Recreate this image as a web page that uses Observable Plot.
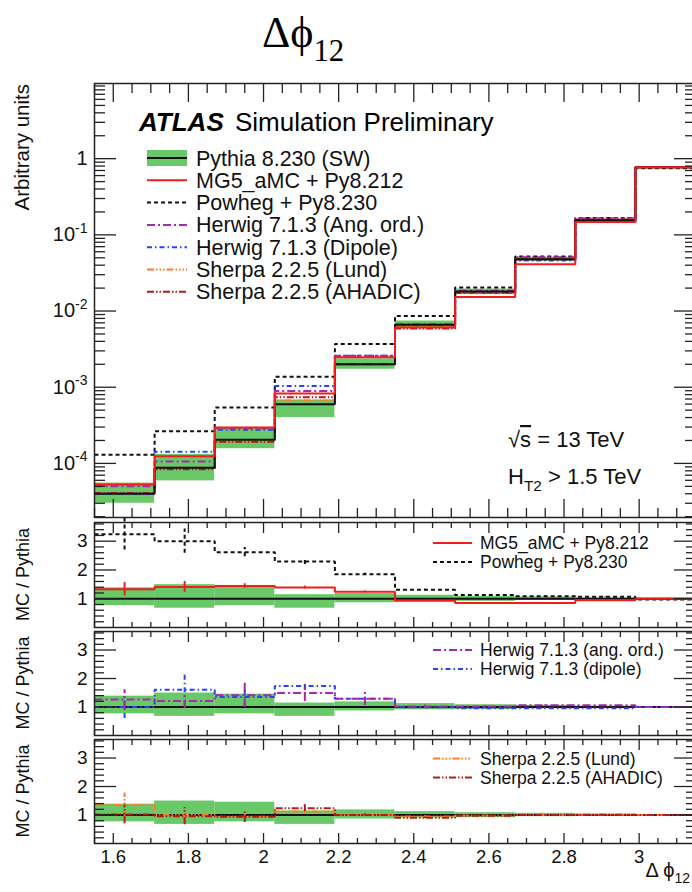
<!DOCTYPE html>
<html><head><meta charset="utf-8">
<script src="https://cdn.jsdelivr.net/npm/d3@7"></script>
<script src="https://cdn.jsdelivr.net/npm/@observablehq/plot@0.6"></script>
<style>
html,body{margin:0;padding:0;background:#fff;}
#wrap{position:relative;width:692px;height:892px;overflow:hidden;background:#fff;}
</style></head><body><div id="wrap"></div>
<script>
// ---------------- data ----------------
const binEdges = [1.55,1.71,1.87,2.03,2.19,2.35,2.51,2.67,2.83,2.99,3.15];
// main panel (arbitrary units)
const pythia     = [4.0e-5, 8.8e-5, 2.05e-4, 6.0e-4, 2.0e-3, 6.6e-3, 1.8e-2, 4.8e-2, 0.156, 0.77];
const pythiaLo   = [3.0e-5, 5.9e-5, 1.56e-4, 4.0e-4, 1.72e-3, 5.9e-3, 1.64e-2, 4.5e-2, 0.151, 0.755];
const pythiaHi   = [5.5e-5, 1.31e-4, 2.97e-4, 6.8e-4, 2.36e-3, 7.4e-3, 1.94e-2, 5.1e-2, 0.161, 0.785];
const mg5        = [5.3e-5, 1.24e-4, 2.95e-4, 8.3e-4, 2.48e-3, 6.1e-3, 1.53e-2, 4.1e-2, 0.148, 0.77];
const powheg     = [1.3e-4, 2.64e-4, 5.4e-4, 1.37e-3, 3.7e-3, 8.6e-3, 2.04e-2, 5.2e-2, 0.167, 0.75];
const herwigAng  = [5.0e-5, 1.06e-4, 2.9e-4, 8.9e-4, 2.58e-3, 6.7e-3, 1.84e-2, 5.1e-2, 0.165, 0.77];
const herwigDip  = [4.0e-5, 1.42e-4, 2.77e-4, 1.04e-3, 2.58e-3, 6.5e-3, 1.73e-2, 4.6e-2, 0.150, 0.77];
const sherpaLund = [5.4e-5, 8.8e-5, 1.93e-4, 6.7e-4, 2.0e-3, 6.3e-3, 1.76e-2, 4.8e-2, 0.158, 0.77];
const sherpaAha  = [4.1e-5, 8.4e-5, 1.93e-4, 7.4e-4, 2.0e-3, 5.9e-3, 1.75e-2, 4.8e-2, 0.158, 0.77];
// ratio panels (MC / Pythia)
const bandRatioLo = [0.76, 0.67, 0.76, 0.67, 0.86, 0.90, 0.91, 0.94, 0.97, 0.98];
const bandRatioHi = [1.38, 1.49, 1.45, 1.14, 1.18, 1.12, 1.08, 1.06, 1.03, 1.02];
const mg5R        = [1.33, 1.41, 1.44, 1.39, 1.24, 0.93, 0.85, 0.85, 0.95, 1.00];
const mg5Err      = [0.23, 0.19, 0.08, 0.05, 0.03, 0.02, 0.01, 0.01, 0.01, 0.01];
const powhegR     = [3.24, 3.00, 2.62, 2.29, 1.85, 1.31, 1.13, 1.09, 1.07, 0.97];
const powhegErr   = [0.55, 0.42, 0.16, 0.10, 0.04, 0.02, 0.01, 0.01, 0.01, 0.01];
const herwigAngR  = [1.26, 1.21, 1.41, 1.49, 1.29, 1.02, 1.02, 1.06, 1.06, 1.00];
const herwigAngErr= [0.35, 0.27, 0.42, 0.30, 0.24, 0.05, 0.03, 0.02, 0.01, 0.01];
const herwigDipR  = [1.00, 1.61, 1.35, 1.74, 1.29, 0.99, 0.96, 0.96, 0.96, 1.00];
const herwigDipErr= [0.40, 0.55, 0.35, 0.12, 0.06, 0.03, 0.02, 0.01, 0.01, 0.01];
const sherpaLundR = [1.35, 1.00, 0.94, 1.12, 1.00, 0.95, 0.98, 1.00, 1.01, 1.00];
const sherpaLundErr=[0.42, 0.20, 0.15, 0.10, 0.04, 0.02, 0.02, 0.01, 0.01, 0.01];
const sherpaAhaR  = [1.02, 0.96, 0.94, 1.24, 1.00, 0.90, 0.97, 1.00, 1.01, 1.00];
const sherpaAhaErr= [0.33, 0.30, 0.20, 0.12, 0.04, 0.03, 0.02, 0.01, 0.01, 0.01];
// ticks and labels
const xMajor = [1.6, 1.8, 2.0, 2.2, 2.4, 2.6, 2.8, 3.0];
const yMainMajor = [1e-4, 1e-3, 1e-2, 1e-1, 1];
const yRatioMajor = [1, 2, 3];
const mainLegend = ["Pythia 8.230 (SW)", "MG5_aMC + Py8.212", "Powheg + Py8.230", "Herwig 7.1.3 (Ang. ord.)", "Herwig 7.1.3 (Dipole)", "Sherpa 2.2.5 (Lund)", "Sherpa 2.2.5 (AHADIC)"];
const ratioLegends = [["MG5_aMC + Py8.212", "Powheg + Py8.230"], ["Herwig 7.1.3 (ang. ord.)", "Herwig 7.1.3 (dipole)"], ["Sherpa 2.2.5 (Lund)", "Sherpa 2.2.5 (AHADIC)"]];

// ---------------- styles ----------------
const FONT = "'Liberation Sans', Arial, Helvetica, sans-serif";
const INK = "#222";
const GREEN = "#69c969";
const S = {
  pythia:    {color: "#111", dash: null, w: 2},
  mg5:       {color: "#f21c1c", dash: null, w: 2},
  powheg:    {color: "#111", dash: "4,3", w: 2},
  herwigAng: {color: "#a52aad", dash: "8,3,2,3", w: 2},
  herwigDip: {color: "#2642ff", dash: "5,3,1.5,3", w: 2},
  sherpaLund:{color: "#ff7a2a", dash: "7,2,1.5,2,1.5,2,1.5,2", w: 2},
  sherpaAha: {color: "#b41a1a", dash: "7,2,1.5,2,1.5,2", w: 2}
};
const mainSeries = [
  ["powheg", powheg], ["herwigDip", herwigDip], ["herwigAng", herwigAng],
  ["sherpaLund", sherpaLund], ["sherpaAha", sherpaAha], ["pythia", pythia], ["mg5", mg5]
];

// ---------------- helpers ----------------
const W = 697, ML = 94, MR = 2;
const xMinor = d3.range(31, 64).map(k => Math.round(k * 5) / 100).filter(v => !xMajor.some(m => Math.abs(m - v) < 1e-9));
const yMainMinor = [];
for (let e = -5; e <= 0; e++) for (let m = 2; m <= 9; m++) yMainMinor.push(m * Math.pow(10, e));
const yRatioMinor = d3.range(1, 19).map(k => Math.round(k * 2) / 10).filter(v => !yRatioMajor.includes(v));

const steps = vals => vals.flatMap((v, i) => [{x: binEdges[i], y: v}, {x: binEdges[i + 1], y: v}]);
const bands = (lo, hi) => lo.map((l, i) => ({x1: binEdges[i], x2: binEdges[i + 1], lo: l, hi: hi[i]}));
const errs = (vals, e) => vals.map((v, i) => ({xc: (binEdges[i] + binEdges[i + 1]) / 2, lo: v - e[i], hi: v + e[i]}));
const stepLine = (vals, key) => Plot.line(steps(vals), {x: "x", y: "y", stroke: S[key].color, strokeWidth: S[key].w, strokeDasharray: S[key].dash, strokeLinecap: "butt", strokeLinejoin: "miter"});
const errBars = (vals, e, key) => Plot.ruleX(errs(vals, e), {x: "xc", y1: "lo", y2: "hi", stroke: S[key].color, strokeWidth: 2, strokeDasharray: S[key].dash});

function frameTicks(yMajor, yMinor, yMajLen, yMinLen, xMajLen, xMinLen) {
  const c = {fill: "none", stroke: INK, strokeWidth: 1.3, label: null};
  return [
    Plot.axisX(xMajor, {...c, anchor: "bottom", tickSize: -xMajLen}),
    Plot.axisX(xMinor, {...c, anchor: "bottom", tickSize: -xMinLen}),
    Plot.axisX(xMajor, {...c, anchor: "top", tickSize: -xMajLen}),
    Plot.axisX(xMinor, {...c, anchor: "top", tickSize: -xMinLen}),
    Plot.axisY(yMajor, {...c, anchor: "left", tickSize: -yMajLen}),
    Plot.axisY(yMinor, {...c, anchor: "left", tickSize: -yMinLen}),
    Plot.axisY(yMajor, {...c, anchor: "right", tickSize: -yMajLen}),
    Plot.axisY(yMinor, {...c, anchor: "right", tickSize: -yMinLen}),
    Plot.frame({stroke: INK, strokeWidth: 1.5})
  ];
}
const styleAt = top => ({position: "absolute", left: "0px", top: top + "px", maxWidth: "none", background: "transparent", fontFamily: FONT, overflow: "visible"});

function rich(t, str, fs) {
  const parts = str.split(/([_^]\{[^}]*\})/).filter(p => p.length);
  let shift = 0;
  for (const p of parts) {
    const m = p.match(/^([_^])\{([^}]*)\}$/);
    if (m) {
      const target = m[1] === "^" ? -0.42 * fs : 0.32 * fs;
      t.append("tspan").attr("dy", target - shift).attr("font-size", 0.7 * fs).text(m[2]);
      shift = target;
    } else {
      t.append("tspan").attr("dy", -shift).text(p);
      shift = 0;
    }
  }
}
function richify(svg) {
  d3.select(svg).selectAll("text").each(function () {
    const s = this.textContent;
    if (!/[_^]\{/.test(s)) return;
    const fs = parseFloat(getComputedStyle(this).fontSize) || 19;
    const t = d3.select(this);
    t.text(null);
    rich(t, s, fs);
  });
}

const wrap = document.getElementById("wrap");

// ---------------- main panel ----------------
const mainPlot = Plot.plot({
  width: W, height: 520, marginLeft: ML, marginRight: MR, marginTop: 83, marginBottom: 3,
  style: styleAt(0),
  x: {domain: [1.55, 3.15]},
  y: {type: "log", domain: [1.95e-5, 9.7]},
  marks: [
    Plot.rect(bands(pythiaLo, pythiaHi), {x1: "x1", x2: "x2", y1: "lo", y2: "hi", fill: GREEN}),
    ...mainSeries.map(([k, v]) => stepLine(v, k)),
    ...frameTicks(yMainMajor, yMainMinor, 22, 11, 18, 9),
    Plot.axisY(yMainMajor, {anchor: "left", tickSize: 0, tickPadding: 7, fontSize: 20, fill: "#111", label: null,
      tickFormat: d => d === 1 ? "1" : "10^{" + Math.round(Math.log10(d)) + "}"})
  ]
});
wrap.appendChild(mainPlot);
richify(mainPlot);

// ---------------- ratio panels ----------------
const ratioPanels = [
  {top: 519, h: 110, mb: 2, series: [["powheg", powhegR, powhegErr], ["mg5", mg5R, mg5Err]]},
  {top: 628, h: 109, mb: 2, series: [["herwigDip", herwigDipR, herwigDipErr], ["herwigAng", herwigAngR, herwigAngErr]]},
  {top: 736, h: 156, mb: 49, series: [["sherpaLund", sherpaLundR, sherpaLundErr], ["sherpaAha", sherpaAhaR, sherpaAhaErr]]}
];
ratioPanels.forEach((p, idx) => {
  const marks = [
    Plot.rect(bands(bandRatioLo, bandRatioHi), {x1: "x1", x2: "x2", y1: "lo", y2: "hi", fill: GREEN}),
    Plot.ruleY([1], {stroke: "#111", strokeWidth: 2}),
    ...p.series.flatMap(([k, v, e]) => [errBars(v, e, k), stepLine(v, k)]),
    ...frameTicks(yRatioMajor, yRatioMinor, 22, 10, 10, 5),
    Plot.axisY(yRatioMajor, {anchor: "left", tickSize: 0, tickPadding: 7, fontSize: 19, fill: "#111", label: null, tickFormat: d => String(d)})
  ];
  if (idx === 2) marks.push(Plot.axisX(xMajor, {anchor: "bottom", tickSize: 0, tickPadding: 6, fontSize: 18.5, fill: "#111", label: null, tickFormat: d => String(Math.round(d * 10) / 10)}));
  const svg = Plot.plot({
    width: W, height: p.h, marginLeft: ML, marginRight: MR, marginTop: 3, marginBottom: p.mb,
    style: styleAt(p.top),
    x: {domain: [1.55, 3.15]},
    y: {domain: [0, 3.65]},
    marks
  });
  wrap.appendChild(svg);
});

// ---------------- overlay: titles, labels, legends ----------------
const ov = d3.select(wrap).append("svg").attr("width", 692).attr("height", 892)
  .style("position", "absolute").style("left", "0px").style("top", "0px")
  .style("font-family", FONT).style("pointer-events", "none");

// figure title
const tt = ov.append("text").attr("x", 262).attr("y", 47).attr("font-family", "'Liberation Serif', 'Times New Roman', serif").attr("font-size", 44).attr("fill", "#000");
rich(tt, "Δϕ_{12}", 44);

// ATLAS label
const at = ov.append("text").attr("x", 139).attr("y", 131).attr("font-size", 26).attr("fill", "#000");
at.append("tspan").attr("font-weight", "bold").attr("font-style", "italic").text("ATLAS");
at.append("tspan").attr("dx", 4).text(" Simulation Preliminary");

// main legend
const legKeys = ["pythia", "mg5", "powheg", "herwigAng", "herwigDip", "sherpaLund", "sherpaAha"];
mainLegend.forEach((lab, i) => {
  const cy = 158 + i * 22.3;
  const k = legKeys[i];
  if (k === "pythia") ov.append("rect").attr("x", 147).attr("y", cy - 8).attr("width", 40).attr("height", 16).attr("fill", GREEN);
  ov.append("line").attr("x1", 147).attr("x2", 187).attr("y1", cy).attr("y2", cy)
    .attr("stroke", S[k].color).attr("stroke-width", S[k].w).attr("stroke-dasharray", S[k].dash);
  ov.append("text").attr("x", 196).attr("y", cy + 7.5).attr("font-size", 21.5).attr("fill", "#111").text(lab);
});

// energy / cut labels
const sq = ov.append("text").attr("x", 508).attr("y", 447).attr("font-size", 22).attr("fill", "#111");
sq.append("tspan").text("√");
sq.append("tspan").attr("text-decoration", "overline").text("s");
sq.append("tspan").text(" = 13 TeV");
const ht = ov.append("text").attr("x", 508).attr("y", 484).attr("font-size", 22).attr("fill", "#111");
rich(ht, "H_{T2} > 1.5 TeV", 22);

// ratio legends
const ratioLegY = [[543, 562], [650, 669], [758.5, 777.5]];
const ratioLegKeys = [["mg5", "powheg"], ["herwigAng", "herwigDip"], ["sherpaLund", "sherpaAha"]];
ratioLegends.forEach((labs, p) => labs.forEach((lab, j) => {
  const cy = ratioLegY[p][j], k = ratioLegKeys[p][j];
  ov.append("line").attr("x1", 433).attr("x2", 472).attr("y1", cy).attr("y2", cy)
    .attr("stroke", S[k].color).attr("stroke-width", S[k].w).attr("stroke-dasharray", S[k].dash);
  ov.append("text").attr("x", 480).attr("y", cy + 6).attr("font-size", 17.5).attr("fill", "#111").text(lab);
}));

// axis titles
ov.append("text").attr("transform", "translate(29,84) rotate(-90)").attr("text-anchor", "end")
  .attr("font-size", 20.5).attr("fill", "#111").text("Arbitrary units");
[574.5, 683, 791].forEach(cy => {
  ov.append("text").attr("transform", `translate(29,${cy}) rotate(-90)`).attr("text-anchor", "middle")
    .attr("font-size", 18).attr("fill", "#111").text("MC / Pythia");
});
const xt = ov.append("text").attr("x", 690).attr("y", 877).attr("text-anchor", "end").attr("font-size", 20).attr("fill", "#111");
rich(xt, "Δ ϕ_{12}", 20);
</script>
</body></html>
